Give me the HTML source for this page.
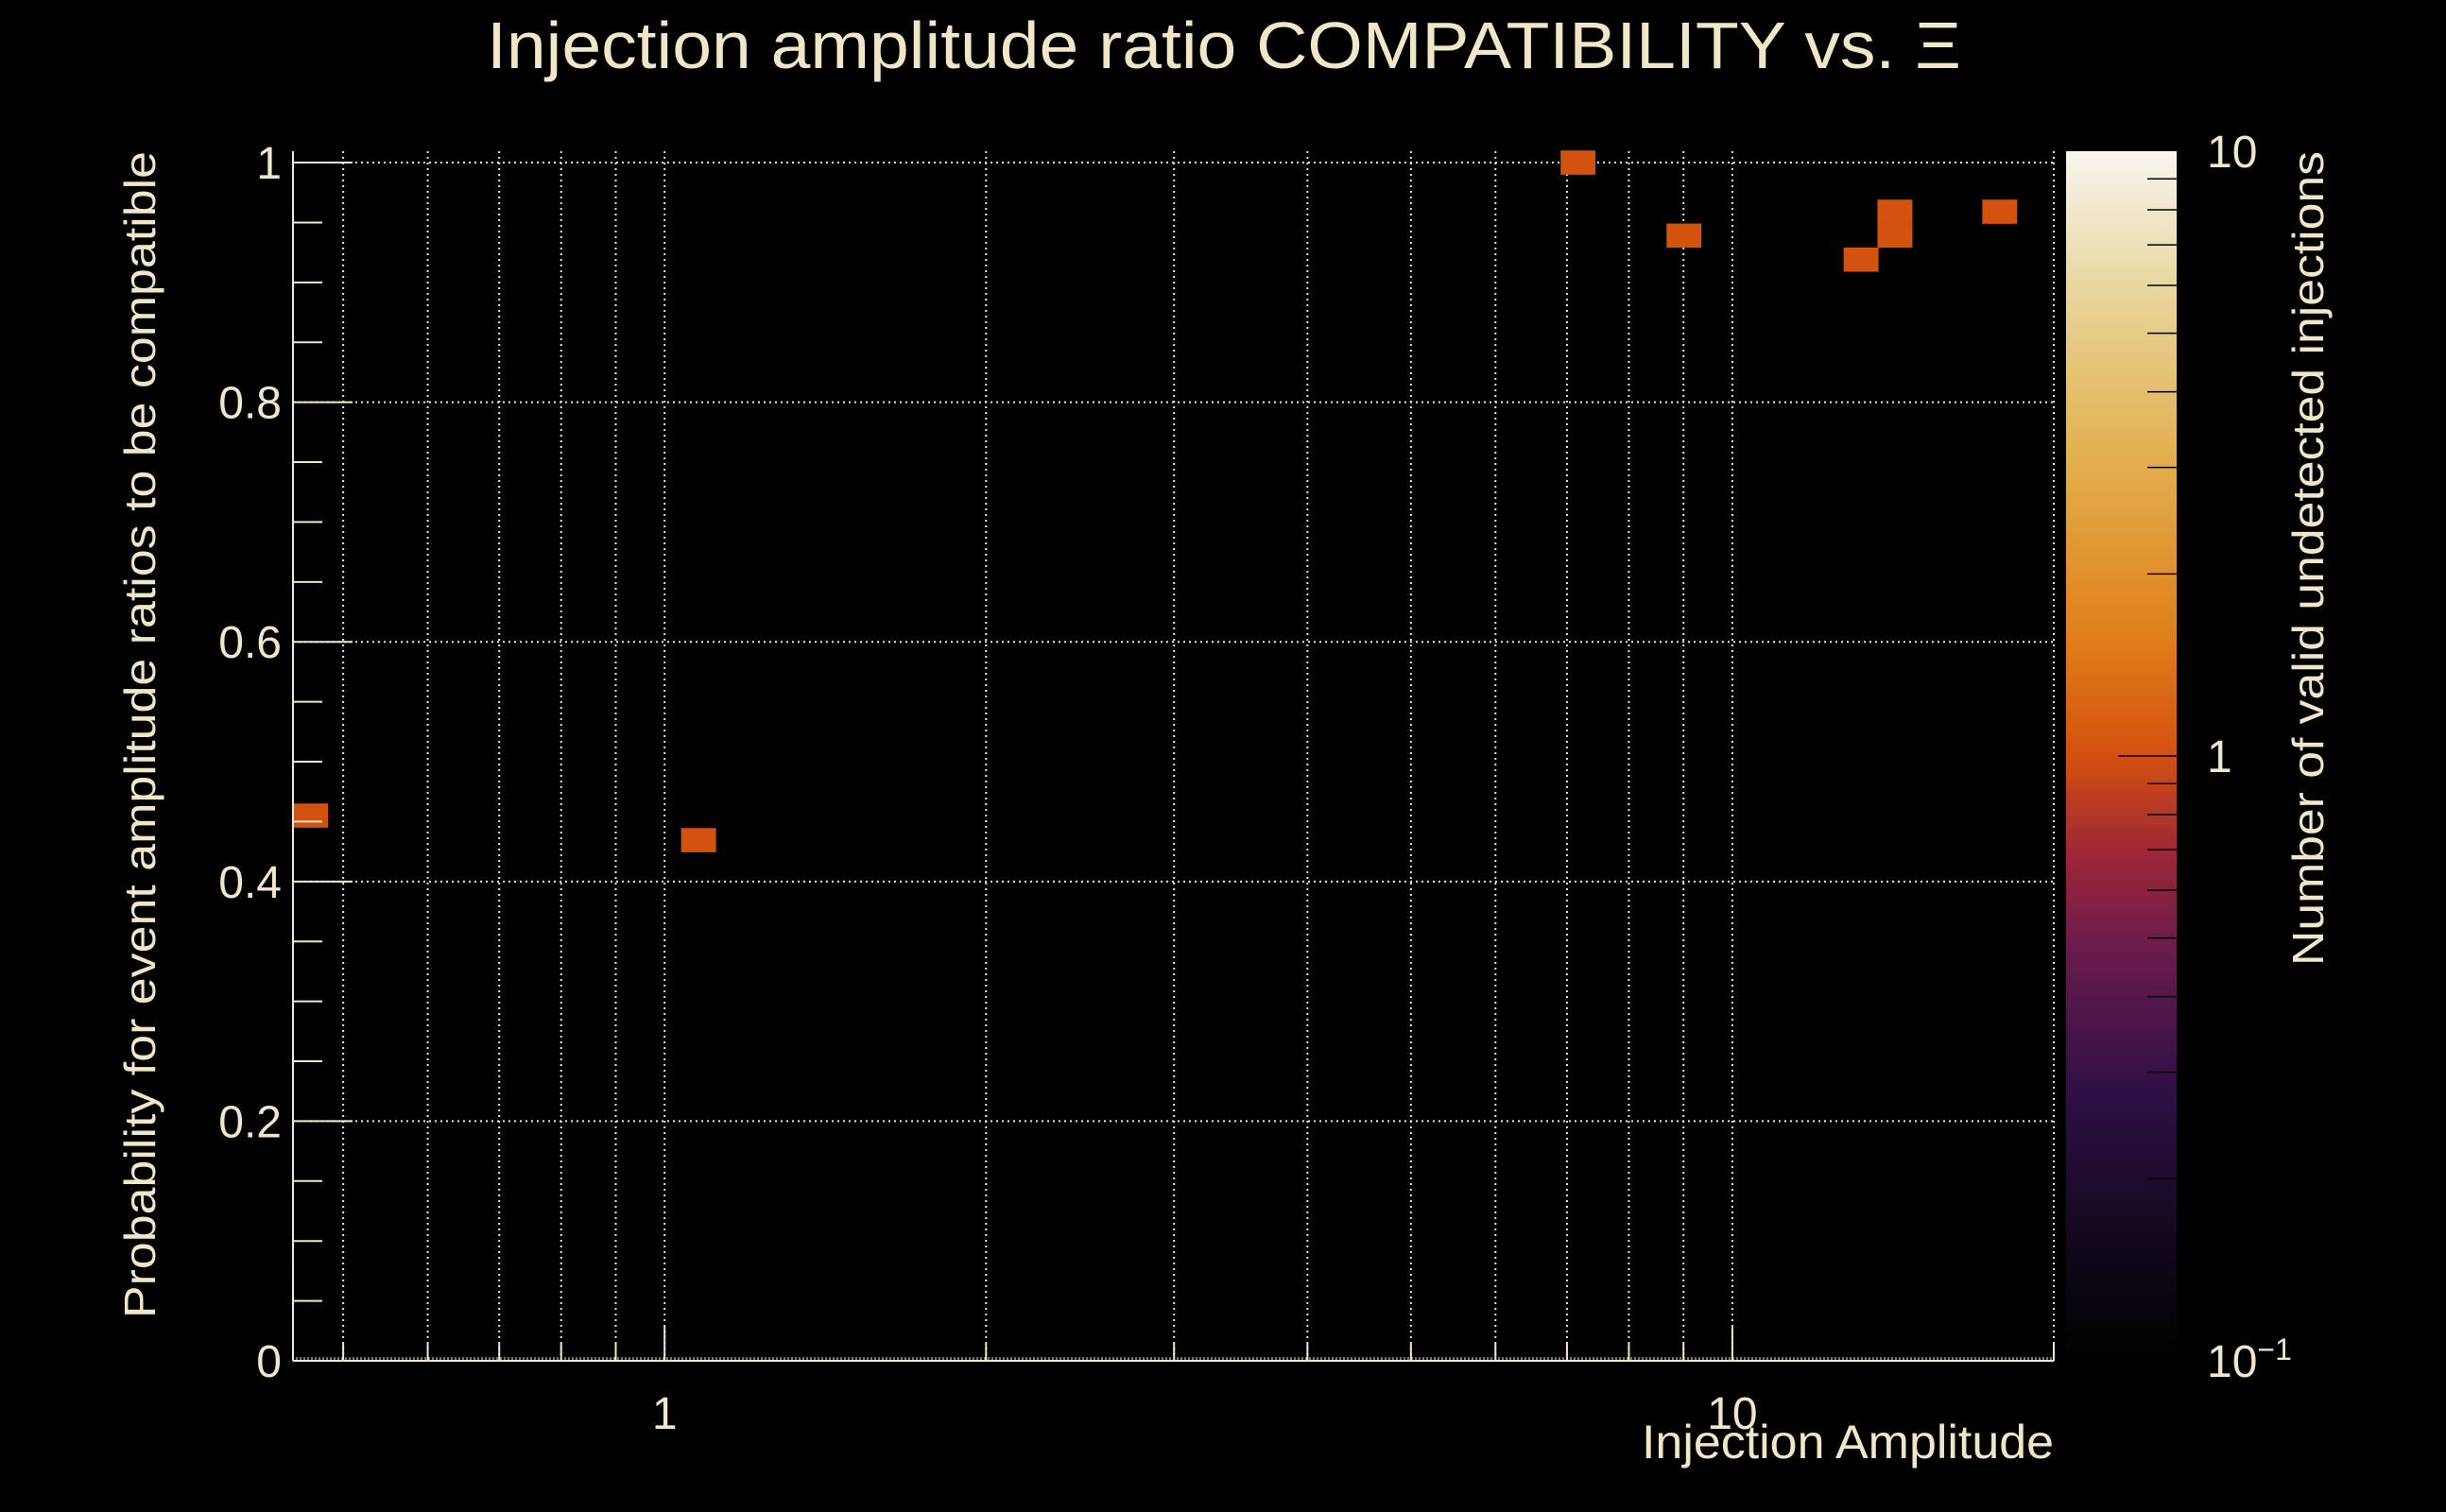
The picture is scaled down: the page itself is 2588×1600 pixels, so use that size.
<!DOCTYPE html>
<html><head><meta charset="utf-8"><style>
html,body{margin:0;padding:0;background:#000;}
svg{display:block;}
text{font-family:"Liberation Sans",sans-serif;fill:#f0e6c8;}
</style></head>
<body>
<svg id="chart" width="2588" height="1600" viewBox="0 0 2588 1600" xmlns="http://www.w3.org/2000/svg">
<defs>
<linearGradient id="cmap" x1="0" y1="1" x2="0" y2="0">
<stop offset="0" stop-color="#000000"/>
<stop offset="0.12" stop-color="#160a22"/>
<stop offset="0.22" stop-color="#2e0f46"/>
<stop offset="0.34" stop-color="#6a1b4c"/>
<stop offset="0.42" stop-color="#9e2737"/>
<stop offset="0.5" stop-color="#d4500f"/>
<stop offset="0.6" stop-color="#e0801a"/>
<stop offset="0.75" stop-color="#e3b050"/>
<stop offset="0.88" stop-color="#e8d59a"/>
<stop offset="1" stop-color="#f7f5f0"/>
</linearGradient>
</defs>
<g id="grid"></g>
<g id="marks"></g>
<g id="axes"></g>
<text x="1295" y="72" font-size="70" text-anchor="middle" textLength="1560" lengthAdjust="spacingAndGlyphs">Injection amplitude ratio COMPATIBILITY vs.  Ξ</text>
<text x="2173" y="1543" font-size="50" text-anchor="end" textLength="436" lengthAdjust="spacingAndGlyphs">Injection Amplitude</text>
<text transform="translate(164,160) rotate(-90)" font-size="46" text-anchor="end" textLength="1235" lengthAdjust="spacingAndGlyphs">Probability for event amplitude ratios to be compatible</text>
<rect x="2186" y="160" width="117" height="1280" fill="url(#cmap)"/>
<g id="cbar"></g>
<text transform="translate(2458,160) rotate(-90)" font-size="46" text-anchor="end" textLength="862" lengthAdjust="spacingAndGlyphs">Number of valid undetected injections</text>
</svg>
<script>
const xCenters = [0.466, 1.076, 7.17, 9.01, 14.2, 14.2, 13.2, 17.8];
const yCenters = [0.455, 0.4345, 1.0, 0.939, 0.959, 0.939, 0.919, 0.959];
const counts = [1, 1, 1, 1, 1, 1, 1, 1];
const yTickLabels = ["0", "0.2", "0.4", "0.6", "0.8", "1"];
const yTickValues = [0, 0.2, 0.4, 0.6, 0.8, 1];
const xTickValues = [1, 10];
const xTickLabels = ["1", "10"];
const xGridValues = [0.5, 0.6, 0.7, 0.8, 0.9, 1, 2, 3, 4, 5, 6, 7, 8, 9, 10, 20];

const NS = "http://www.w3.org/2000/svg";
const L = 310, R = 2173, T = 160, B = 1440;
const xMinLog = Math.log10(0.4487), xMaxLog = Math.log10(20.0);
const yMin = 0, yMax = 1.0095;
const xBinLog = 0.0327, yBin = 0.0202;
function xs(v){ return L + (Math.log10(v) - xMinLog) / (xMaxLog - xMinLog) * (R - L); }
function xsLog(lv){ return L + (lv - xMinLog) / (xMaxLog - xMinLog) * (R - L); }
function ys(v){ return B - (v - yMin) / (yMax - yMin) * (B - T); }
function cs(v){ return B - (Math.log10(v) + 1) / 2 * (B - T); }
function mk(tag, attrs, parent){ const e = document.createElementNS(NS, tag); for (const k in attrs) e.setAttribute(k, attrs[k]); parent.appendChild(e); return e; }
const stroke = "#f0e6c8";
const grid = document.getElementById("grid");
const axes = document.getElementById("axes");
const marks = document.getElementById("marks");
const cbar = document.getElementById("cbar");

xGridValues.forEach(v => {
  const x = xs(v);
  const g = mk("line", {x1:x, x2:x, y1:T, y2:B, stroke:stroke, "stroke-width":2, "stroke-dasharray":"2 4"}, grid);
  
  
});
yTickValues.forEach(v => {
  const y = ys(v);
  const g = mk("line", {x1:L, x2:R, y1:y, y2:y, stroke:stroke, "stroke-width":2, "stroke-dasharray":"2 4"}, grid);
  
  
});

for (let i = 0; i < xCenters.length; i++) {
  const lc = Math.log10(xCenters[i]);
  const x0 = xsLog(lc - xBinLog/2), x1 = xsLog(lc + xBinLog/2);
  const y0 = ys(yCenters[i] + yBin/2), y1 = ys(yCenters[i] - yBin/2);
  const r = mk("rect", {x:x0, y:y0, width:x1-x0, height:y1-y0, fill: counts[i] >= 1 ? "#d4520f" : "#9e2737"}, marks);
  
  
}

let a = mk("line", {x1:L, x2:L, y1:T, y2:B, stroke:stroke, "stroke-width":2}, axes);


a = mk("line", {x1:L, x2:R, y1:B, y2:B, stroke:stroke, "stroke-width":2}, axes);



for (let k = 0; k <= 20; k++) {
  const v = k * 0.05, y = ys(v);
  const major = k % 4 === 0;
  const t = mk("line", {x1:L, x2:L + (major ? 63 : 31), y1:y, y2:y, stroke:stroke, "stroke-width":2}, axes);
  
  
}
yTickValues.forEach((v, i) => {
  const t = mk("text", {x:298, y:ys(v) + 17, "font-size":48, "text-anchor":"end"}, axes);
  t.textContent = yTickLabels[i];
  
  
});

for (let d = -1; d <= 1; d++) {
  for (let m = 1; m <= 9; m++) {
    const v = m * Math.pow(10, d);
    if (v < 0.449 || v > 20.01) continue;
    const x = xs(v);
    const len = m === 1 ? 36 : 18;
    const t = mk("line", {x1:x, x2:x, y1:B, y2:B - len, stroke:stroke, "stroke-width":2}, axes);
    
    
  }
}
for (let x = L; x <= R; x += 4) {
  const t = mk("line", {x1:x, x2:x, y1:B, y2:B - 4, stroke:stroke, "stroke-width":1}, axes);
  
  
}
xTickValues.forEach((v, i) => {
  const t = mk("text", {x:xs(v), y:1512, "font-size":48, "text-anchor":"middle"}, axes);
  t.textContent = xTickLabels[i];
  
  
});

for (let d = -1; d <= 0; d++) {
  for (let m = 1; m <= 9; m++) {
    const v = m * Math.pow(10, d);
    if (m === 1 && d === -1) continue;
    const y = cs(v);
    const t = mk("line", {x1:(m === 1 ? 2241 : 2272), x2:2303, y1:y, y2:y, stroke:"#000", "stroke-width":1.5}, cbar);
    
    
  }
}
[[10, "10"], [1, "1"]].forEach(p => {
  const t = mk("text", {x:2335, y:cs(p[0]) + 17, "font-size":48}, cbar);
  t.textContent = p[1];
  
  
});
const lt = mk("text", {x:2335, y:cs(0.1) + 17, "font-size":48}, cbar);


lt.textContent = "10";
const sup = document.createElementNS(NS, "tspan");
sup.setAttribute("dy", -18);
sup.setAttribute("font-size", 32);
sup.textContent = "−1";
lt.appendChild(sup);
</script>
</body></html>
